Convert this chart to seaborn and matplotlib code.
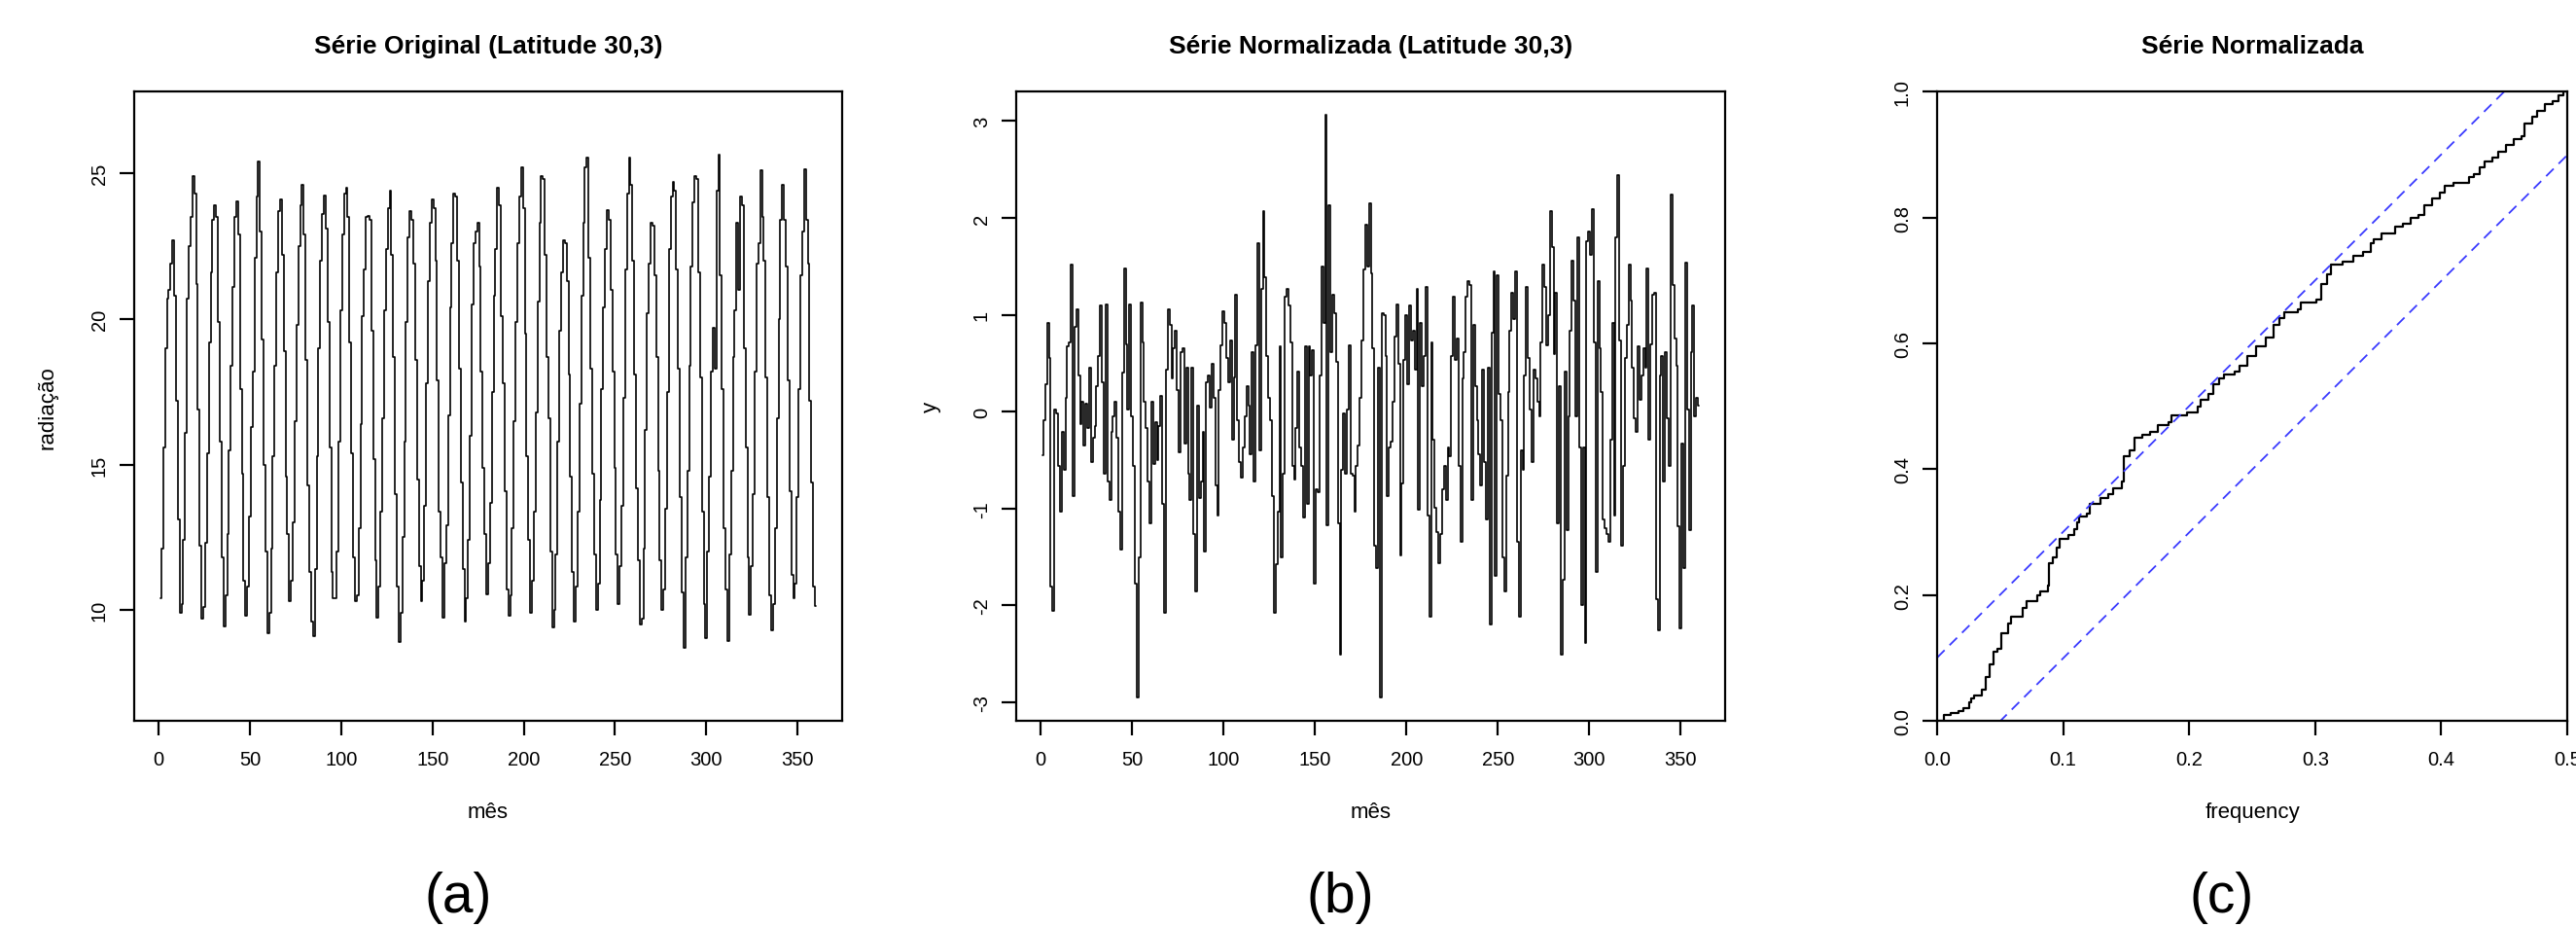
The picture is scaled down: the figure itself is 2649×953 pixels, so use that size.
import numpy as np
import pandas as pd
import seaborn as sns
from matplotlib import pyplot as plt

# --- data ---
mes = list(range(1, 361))

# serie original (radiacao), one row per year
radiacao = [
    10.4, 12.1, 15.6, 19.0, 20.7, 21.0, 21.9, 22.7, 20.8, 17.2, 13.1, 9.9,
    10.2, 12.4, 16.1, 20.7, 22.5, 23.5, 24.9, 24.3, 21.2, 16.9, 12.2, 9.7,
    10.1, 12.3, 15.4, 19.2, 21.6, 23.4, 23.9, 23.5, 19.9, 15.8, 11.8, 9.45,
    10.5, 12.6, 15.5, 18.4, 21.1, 23.5, 24.05, 22.9, 17.6, 14.7, 11.0, 9.8,
    10.8, 13.2, 16.3, 18.2, 22.1, 24.2, 25.4, 23.0, 19.3, 15.0, 12.0, 9.2,
    9.9, 12.1, 15.3, 18.4, 21.6, 23.7, 24.1, 22.2, 18.9, 14.6, 12.6, 10.3,
    11.0, 13.0, 16.5, 19.8, 22.5, 23.9, 24.6, 22.9, 18.6, 14.3, 11.3, 9.6,
    9.1, 11.4, 15.3, 19.0, 22.0, 23.6, 24.25, 23.1, 19.9, 15.6, 11.3, 10.4,
    10.4, 12.0, 15.8, 20.3, 22.9, 24.3, 24.5, 23.5, 19.2, 15.4, 11.8, 10.3,
    10.5, 12.8, 16.4, 20.1, 21.7, 23.5, 23.55, 23.4, 19.6, 15.2, 11.7, 9.75,
    10.8, 13.4, 16.6, 20.3, 22.4, 23.8, 24.4, 22.2, 18.7, 14.0, 10.8, 8.9,
    9.9, 12.5, 15.8, 19.9, 22.8, 23.7, 23.4, 21.9, 18.6, 14.5, 11.5, 10.3,
    11.0, 13.6, 17.8, 21.3, 23.3, 24.1, 23.8, 22.0, 17.9, 13.4, 11.8, 9.75,
    11.6, 12.9, 16.7, 20.4, 22.6, 24.3, 24.2, 22.0, 18.3, 14.4, 11.4, 9.6,
    10.4, 12.4, 16.0, 20.5, 22.6, 23.0, 23.3, 21.8, 18.2, 14.9, 12.6, 10.55,
    11.6, 13.7, 17.5, 20.8, 22.4, 24.5, 23.9, 20.1, 17.8, 14.1, 10.7, 9.8,
    10.5, 12.8, 16.5, 19.9, 22.6, 24.2, 25.2, 23.8, 19.5, 15.3, 12.4, 9.9,
    11.0, 13.4, 16.8, 20.6, 23.3, 24.9, 24.8, 22.2, 18.7, 16.6, 12.0, 9.4,
    10.0, 11.9, 15.8, 19.6, 21.6, 22.7, 22.6, 21.3, 18.1, 14.6, 11.3, 9.6,
    10.8, 13.4, 17.1, 20.8, 23.3, 25.2, 25.55, 22.1, 18.3, 14.7, 11.9, 10.0,
    10.9, 13.8, 17.6, 20.4, 22.4, 23.75, 23.4, 21.0, 18.2, 14.9, 11.9, 10.2,
    11.5, 13.6, 17.3, 21.7, 24.3, 25.55, 24.6, 22.0, 18.1, 14.2, 11.7, 9.5,
    9.7, 12.1, 16.2, 20.2, 21.9, 23.3, 23.2, 21.5, 18.7, 14.8, 11.7, 10.0,
    10.7, 13.5, 17.5, 22.4, 24.2, 24.7, 24.4, 21.7, 18.3, 13.9, 10.6, 8.7,
    11.8, 14.8, 18.4, 21.8, 24.0, 24.9, 24.8, 21.6, 18.0, 13.4, 10.2, 9.05,
    12.0, 14.6, 18.2, 19.7, 18.3, 24.4, 25.65, 21.5, 17.6, 12.8, 10.7, 8.95,
    11.9, 14.8, 18.7, 20.3, 23.3, 21.0, 24.2, 23.9, 19.0, 15.6, 11.8, 9.85,
    11.5, 14.0, 18.2, 21.9, 22.6, 25.1, 23.5, 22.0, 18.0, 13.9, 10.5, 9.3,
    10.2, 12.8, 16.6, 20.0, 23.4, 24.6, 23.4, 21.8, 17.9, 14.1, 11.2, 10.4,
    10.9, 13.9, 17.6, 21.5, 23.0, 25.15, 23.4, 21.9, 17.2, 14.4, 10.8, 10.15,
]

# serie normalizada (y)
normalizada = [
    -0.45, -0.09, 0.28, 0.92, 0.55, -1.80, -2.06, 0.02, -0.02, -0.56,
    -1.03, -0.21, -0.60, 0.14, 0.67, 0.72, 1.52, -0.87, 0.88, 1.06,
    0.37, -0.13, 0.10, -0.35, 0.08, -0.17, 0.45, -0.52, -0.27, -0.15,
    0.26, 0.57, 1.10, 0.30, -0.64, 1.11, -0.72, -0.91, -0.21, -0.05,
    0.10, -0.27, -1.03, -1.42, 0.40, 1.48, 0.70, 0.02, 1.11, -0.05,
    -0.56, -1.77, -2.95, -1.50, 1.13, 0.72, 0.10, -0.17, -0.72, -1.15,
    0.10, -0.54, -0.11, -0.50, -0.15, 0.16, -0.95, -2.08, 0.43, 1.06,
    0.90, 0.34, 0.65, 0.84, 0.22, -0.42, 0.61, 0.65, -0.33, 0.45,
    -0.64, -0.91, 0.45, -1.26, -1.85, 0.06, -0.89, -0.72, -0.21, -1.44,
    0.30, 0.37, 0.04, 0.49, 0.14, -0.76, -1.07, 0.22, 0.69, 1.04,
    0.92, 0.55, 0.30, 0.74, -0.29, 0.35, 1.21, -0.09, -0.52, -0.68,
    -0.37, -0.05, 0.26, 0.06, -0.44, 0.61, -0.72, 0.69, 1.74, -0.40,
    1.27, 2.07, 1.39, 0.57, 0.14, -0.09, -0.87, -2.08, -1.57, -1.03,
    0.67, -1.50, -0.64, 1.19, 1.27, 1.10, 0.72, -0.56, -0.70, -0.17,
    0.41, -0.37, -0.56, -1.09, 0.67, -0.95, 0.67, 0.37, 0.63, -1.77,
    -0.80, -0.83, 0.37, 1.50, 0.92, 3.06, -1.17, 2.13, 0.61, 1.21,
    1.02, 0.51, -1.15, -2.51, -0.60, -0.02, -0.64, 0.02, 0.69, -0.64,
    -0.66, -1.03, -0.56, -0.35, 0.14, 0.74, 1.47, 1.93, 1.50, 2.15,
    1.43, 0.65, -1.38, -1.61, 0.45, -2.95, 1.02, 1.00, 0.57, -0.87,
    -0.37, -0.31, 0.10, 0.78, 1.11, 0.49, -1.48, -0.74, 0.53, 1.00,
    0.28, 1.10, 0.74, 0.84, 0.43, 1.27, -1.01, 0.92, 0.26, 0.57,
    1.29, -1.07, -2.12, 0.72, -0.29, -0.99, -1.24, -1.56, -1.26, -0.80,
    -0.56, -0.91, -0.37, -0.46, 0.57, 1.19, 0.53, 0.76, -0.56, -1.34,
    0.34, 0.61, 1.19, 1.35, 1.31, -0.91, 0.90, 0.26, -0.09, -0.44,
    -0.76, 0.43, -0.52, -1.11, 0.45, -2.20, 0.82, 1.45, -1.69, 1.41,
    0.18, -0.09, -1.50, -1.85, -0.66, 0.20, 0.84, 1.23, 0.96, 1.45,
    -1.34, -2.12, -0.40, -0.60, 0.37, 1.29, 0.55, 0.02, -0.52, 0.43,
    0.34, 0.10, -0.05, 0.72, 1.52, 1.29, 0.69, 1.00, 2.07, 1.70,
    0.59, 1.23, -1.15, 0.26, -2.51, -1.73, 0.41, -1.22, -0.05, 0.84,
    1.56, 1.15, -0.05, 1.80, -0.37, -2.00, -0.37, -2.39, 1.76, 1.86,
    1.62, 2.09, 0.72, -1.65, 1.35, 0.65, 0.20, -1.11, -1.20, -1.26,
    -1.34, -0.29, 0.92, -1.07, 1.80, 2.44, 0.74, -1.38, -0.56, 0.55,
    0.90, 1.52, 1.15, 0.45, -0.07, -0.21, 0.67, 0.12, 0.37, 0.65,
    0.45, 1.48, -0.29, 0.70, 1.21, 1.23, -1.94, -2.26, 0.37, 0.57,
    -0.72, 0.61, -0.07, -0.56, 2.24, 1.31, 0.76, 0.47, -1.18, -2.24,
    -0.33, -1.61, 1.54, 0.02, -1.22, 0.61, 1.10, -0.05, 0.14, 0.06,
]

# periodograma acumulado
freq = [0.0, 0.0028, 0.0054, 0.0104, 0.0167, 0.0209, 0.0251, 0.0272, 0.0292, 0.0355,
        0.0388, 0.0418, 0.0447, 0.0480, 0.0510, 0.0564, 0.0585, 0.0681, 0.0710, 0.0794,
        0.0815, 0.0877, 0.0890, 0.0919, 0.0948, 0.0973, 0.1044, 0.1086, 0.1107, 0.1128,
        0.1190, 0.1211, 0.1295, 0.1358, 0.1399, 0.1462, 0.1483, 0.1525, 0.1566, 0.1629,
        0.1692, 0.1754, 0.1838, 0.1859, 0.1984, 0.2068, 0.2089, 0.2151, 0.2193, 0.2235,
        0.2277, 0.2360, 0.2402, 0.2464, 0.2527, 0.2611, 0.2673, 0.2715, 0.2757, 0.2861,
        0.2882, 0.3008, 0.3049, 0.3091, 0.3124, 0.3216, 0.3300, 0.3383, 0.3438, 0.3467,
        0.3530, 0.3634, 0.3697, 0.3759, 0.3822, 0.3864, 0.3927, 0.3989, 0.4031, 0.4094,
        0.4219, 0.4261, 0.4302, 0.4344, 0.4407, 0.4449, 0.4511, 0.4574, 0.4637, 0.4658,
        0.4720, 0.4762, 0.4825, 0.4887, 0.4929, 0.4971, 0.5]
cum = [0.0, 0.0, 0.010, 0.012, 0.015, 0.020, 0.030, 0.035, 0.040, 0.050,
       0.070, 0.090, 0.110, 0.115, 0.140, 0.155, 0.165, 0.180, 0.190, 0.200,
       0.205, 0.215, 0.250, 0.260, 0.275, 0.290, 0.295, 0.305, 0.315, 0.325,
       0.330, 0.345, 0.355, 0.360, 0.370, 0.380, 0.420, 0.430, 0.450, 0.455,
       0.460, 0.470, 0.475, 0.485, 0.490, 0.500, 0.510, 0.520, 0.535, 0.545,
       0.550, 0.555, 0.565, 0.580, 0.595, 0.610, 0.630, 0.640, 0.650, 0.655,
       0.665, 0.670, 0.695, 0.710, 0.725, 0.730, 0.740, 0.745, 0.760, 0.765,
       0.775, 0.785, 0.790, 0.800, 0.805, 0.820, 0.830, 0.840, 0.850, 0.855,
       0.865, 0.870, 0.880, 0.890, 0.895, 0.905, 0.915, 0.925, 0.930, 0.950,
       0.960, 0.970, 0.980, 0.985, 0.995, 1.0, 1.0]

crit = 0.1005          # banda de confianca do cpgram
banda_x = [0.0, 0.5]

sns.set_style("ticks")
plt.rcParams['font.family'] = ['Liberation Sans', 'DejaVu Sans']
plt.rcParams['axes.unicode_minus'] = False
plt.rcParams['axes.linewidth'] = 1.6
plt.rcParams['axes.edgecolor'] = 'black'
plt.rcParams['xtick.color'] = 'black'
plt.rcParams['ytick.color'] = 'black'
plt.rcParams['text.color'] = 'black'
plt.rcParams['axes.labelcolor'] = 'black'

fig = plt.figure(figsize=(26.49, 9.54), dpi=100)
ax_a = fig.add_axes([0.0521, 0.2222, 0.2748, 0.6777])
ax_b = fig.add_axes([0.3945, 0.2222, 0.2752, 0.6777])
ax_c = fig.add_axes([0.7520, 0.2222, 0.2446, 0.6777])

df = pd.DataFrame({'mes': mes, 'radiacao': radiacao, 'y': normalizada})

sns.lineplot(data=df, x='mes', y='radiacao', ax=ax_a, color='black', lw=1.2,
             drawstyle='steps-mid')
sns.lineplot(data=df, x='mes', y='y', ax=ax_b, color='black', lw=1.2,
             drawstyle='steps-mid')

sns.lineplot(x=freq, y=cum, ax=ax_c, color='black', lw=1.6, drawstyle='steps-post')
sns.lineplot(x=banda_x, y=[crit, 1 + crit], ax=ax_c, color='#3a3aff', lw=1.3,
             dashes=False, linestyle=(0, (6, 4)))
sns.lineplot(x=banda_x, y=[-crit, 1 - crit], ax=ax_c, color='#3a3aff', lw=1.3,
             dashes=False, linestyle=(0, (6, 4)))

ax_a.set_xlim(-13.36, 374.36)
ax_a.set_ylim(6.2, 27.8)
ax_a.set_xticks(range(0, 351, 50))
ax_a.set_yticks([10, 15, 20, 25])
ax_a.set_title('Série Original (Latitude 30,3)', fontsize=19, fontweight='bold', pad=29)
ax_a.set_xlabel('mês', fontsize=16)
ax_a.set_ylabel('radiação', fontsize=16)
ax_a.yaxis.set_label_coords(-0.1085, 0.5)

ax_b.set_xlim(-13.36, 374.36)
ax_b.set_ylim(-3.19, 3.30)
ax_b.set_xticks(range(0, 351, 50))
ax_b.set_yticks([-3, -2, -1, 0, 1, 2, 3])
ax_b.set_title('Série Normalizada (Latitude 30,3)', fontsize=19, fontweight='bold', pad=29)
ax_b.set_xlabel('mês', fontsize=16)
ax_b.set_ylabel('y', fontsize=16)
ax_b.yaxis.set_label_coords(-0.106, 0.5)

ax_c.set_xlim(0, 0.5)
ax_c.set_ylim(0, 1)
ax_c.set_xticks([0.0, 0.1, 0.2, 0.3, 0.4, 0.5])
ax_c.set_yticks([0.0, 0.2, 0.4, 0.6, 0.8, 1.0])
ax_c.set_xticklabels(['0.0', '0.1', '0.2', '0.3', '0.4', '0.5'])
ax_c.set_yticklabels(['0.0', '0.2', '0.4', '0.6', '0.8', '1.0'])
ax_c.set_title('Série Normalizada', fontsize=19, fontweight='bold', pad=29)
ax_c.set_xlabel('frequency', fontsize=16)
ax_c.set_ylabel('')

for ax in (ax_a, ax_b, ax_c):
    for s in ax.spines.values():
        s.set_visible(True)
    ax.tick_params(axis='both', length=10.8, width=1.6, labelsize=14.5)
    ax.tick_params(axis='x', pad=11)
    ax.tick_params(axis='y', pad=8)
    plt.setp(ax.get_yticklabels(), rotation=90, va='center')
    ax.xaxis.set_label_coords(0.5, -0.128)
    ax.grid(False)

fig.text(0.1778, 0.017, '(a)', fontsize=41, ha='center', va='baseline')
fig.text(0.5202, 0.017, '(b)', fontsize=41, ha='center', va='baseline')
fig.text(0.8625, 0.017, '(c)', fontsize=41, ha='center', va='baseline')

fig.savefig('out.png', dpi=100)
